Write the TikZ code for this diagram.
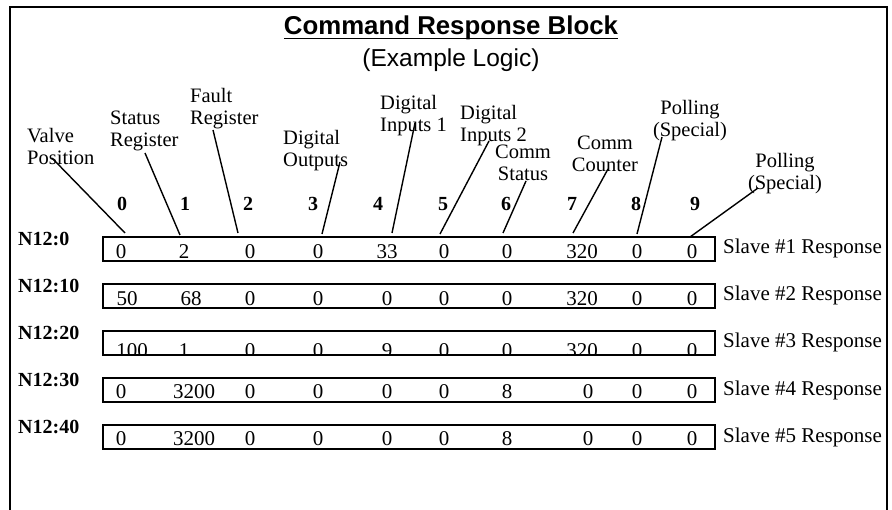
\documentclass[tikz,border=0pt]{standalone}
\usepackage{fontspec}
\setmainfont{Liberation Serif}
\newfontfamily\arialfont{Liberation Sans}
\begin{document}
\begin{tikzpicture}[x=1pt,y=-1pt,
  lbl/.style={inner sep=0pt, font=\fontsize{20.5}{22}\selectfont, align=left, anchor=north west},
  lblc/.style={lbl, align=center, anchor=north},
  idx/.style={inner sep=0pt, font=\fontsize{20}{22}\selectfont\bfseries, anchor=base},
  rowlbl/.style={inner sep=0pt, font=\fontsize{20}{22}\selectfont\bfseries, anchor=base west},
  val/.style={inner sep=0pt, font=\fontsize{21}{22}\selectfont, anchor=base},
  slave/.style={inner sep=0pt, font=\fontsize{21}{22}\selectfont, anchor=base west},
  rowbox/.style={draw, line width=1.8pt, inner sep=0pt, minimum width=612pt, minimum height=24pt, anchor=north west},
  leader/.style={line width=1.4pt},
]
\useasboundingbox (0,0) rectangle (892,510);
\clip (0,0) rectangle (892,510);
% outer frame
\draw[line width=2pt] (10,520) -- (10,7) -- (887,7) -- (887,520);
% title
\node[inner sep=0pt, anchor=base, font=\arialfont\fontsize{25.8}{27}\selectfont\bfseries] (title) at (451,35) {Command Response Block};
\draw[line width=1.6pt] ([yshift=-3.5pt]title.base west) -- ([yshift=-3.5pt]title.base east);
\node[inner sep=0pt, anchor=base, font=\arialfont\fontsize{24.5}{26}\selectfont] (subtitle) at (451,67) {(Example Logic)};
% header labels
\node[lbl] (valve) at (27,128) {Valve\\Position};
\node[lbl] (status) at (110,111) {Status\\Register};
\node[lbl] (fault) at (190,88) {Fault\\Register};
\node[lbl] (dout) at (283,130) {Digital\\Outputs};
\node[lbl] (din1) at (380,95) {Digital\\Inputs 1};
\node[lbl] (din2) at (460,105) {Digital\\Inputs 2};
\node[lblc] (cstat) at (523,145) {Comm\\Status};
\node[lblc] (ccount) at (605,136) {Comm\\Counter};
\node[lblc] (poll1) at (690,100) {Polling\\(Special)};
\node[lblc] (poll2) at (785,153) {Polling\\(Special)};
% index numbers
\foreach \xx [count=\c from 0] in {122,185,248,313,378,443,506,572,636,695}
  \node[idx] (i\c) at (\xx,211) {\c};
% row boxes
\node[rowbox] (r1) at (102,236) {};
\node[rowbox] (r2) at (102,283) {};
\node[rowbox] (r3) at (102,330) {};
\node[rowbox] (r4) at (102,377) {};
\node[rowbox] (r5) at (102,424) {};
% row labels
\node[rowlbl] (n0) at (18,246) {N12:0};
\node[rowlbl] (n10) at (18,293) {N12:10};
\node[rowlbl] (n20) at (18,340) {N12:20};
\node[rowlbl] (n30) at (18,387) {N12:30};
\node[rowlbl] (n40) at (18,434) {N12:40};
% values
\begin{scope}
\clip (r1.south west) rectangle (r1.north east);
\foreach \xx/\v [count=\c from 0] in {121/0,184/2,250/0,318/0,387/33,444/0,507/0,582/320,637/0,692/0}
  \node[val] (va\c) at (\xx,259) {\v};
\end{scope}
\begin{scope}
\clip (r2.south west) rectangle (r2.north east);
\foreach \xx/\v [count=\c from 0] in {127/50,191/68,250/0,318/0,387/0,444/0,507/0,582/320,637/0,692/0}
  \node[val] (vb\c) at (\xx,306) {\v};
\end{scope}
\begin{scope}
\clip (r3.south west) rectangle (r3.north east);
\foreach \xx/\v [count=\c from 0] in {132/100,184/1,250/0,318/0,387/9,444/0,507/0,582/320,637/0,692/0}
  \node[val] (vc\c) at (\xx,358) {\v};
\end{scope}
\begin{scope}
\clip (r4.south west) rectangle (r4.north east);
\foreach \xx/\v [count=\c from 0] in {121/0,194/3200,250/0,318/0,387/0,444/0,507/8,588/0,637/0,692/0}
  \node[val] (vd\c) at (\xx,399) {\v};
\end{scope}
\begin{scope}
\clip (r5.south west) rectangle (r5.north east);
\foreach \xx/\v [count=\c from 0] in {121/0,194/3200,250/0,318/0,387/0,444/0,507/8,588/0,637/0,692/0}
  \node[val] (ve\c) at (\xx,446) {\v};
\end{scope}
% slave labels
\node[slave] (s1) at (723,254) {Slave \#1 Response};
\node[slave] (s2) at (723,301) {Slave \#2 Response};
\node[slave] (s3) at (723,348) {Slave \#3 Response};
\node[slave] (s4) at (723,396) {Slave \#4 Response};
\node[slave] (s5) at (723,443) {Slave \#5 Response};
% leader lines
\coordinate (valve-s) at (52,158);   \coordinate (valve-e) at (125,233);
\coordinate (status-s) at (145,153); \coordinate (status-e) at (180,235);
\coordinate (fault-s) at (213,130);  \coordinate (fault-e) at (238,233);
\coordinate (dout-s) at (340,162);   \coordinate (dout-e) at (322,234);
\coordinate (din1-s) at (415,123);   \coordinate (din1-e) at (392,233);
\coordinate (din2-s) at (489,141);   \coordinate (din2-e) at (440,234);
\coordinate (cstat-s) at (526,181);  \coordinate (cstat-e) at (503,233);
\coordinate (ccount-s) at (608,169); \coordinate (ccount-e) at (573,233);
\coordinate (poll1-s) at (662,137);  \coordinate (poll1-e) at (637,234);
\coordinate (poll2-s) at (758,188);  \coordinate (poll2-e) at (690,237);
\foreach \n in {valve,status,fault,dout,din1,din2,cstat,ccount,poll1,poll2}
  \draw[leader] (\n-s) -- (\n-e);
\end{tikzpicture}
\end{document}
